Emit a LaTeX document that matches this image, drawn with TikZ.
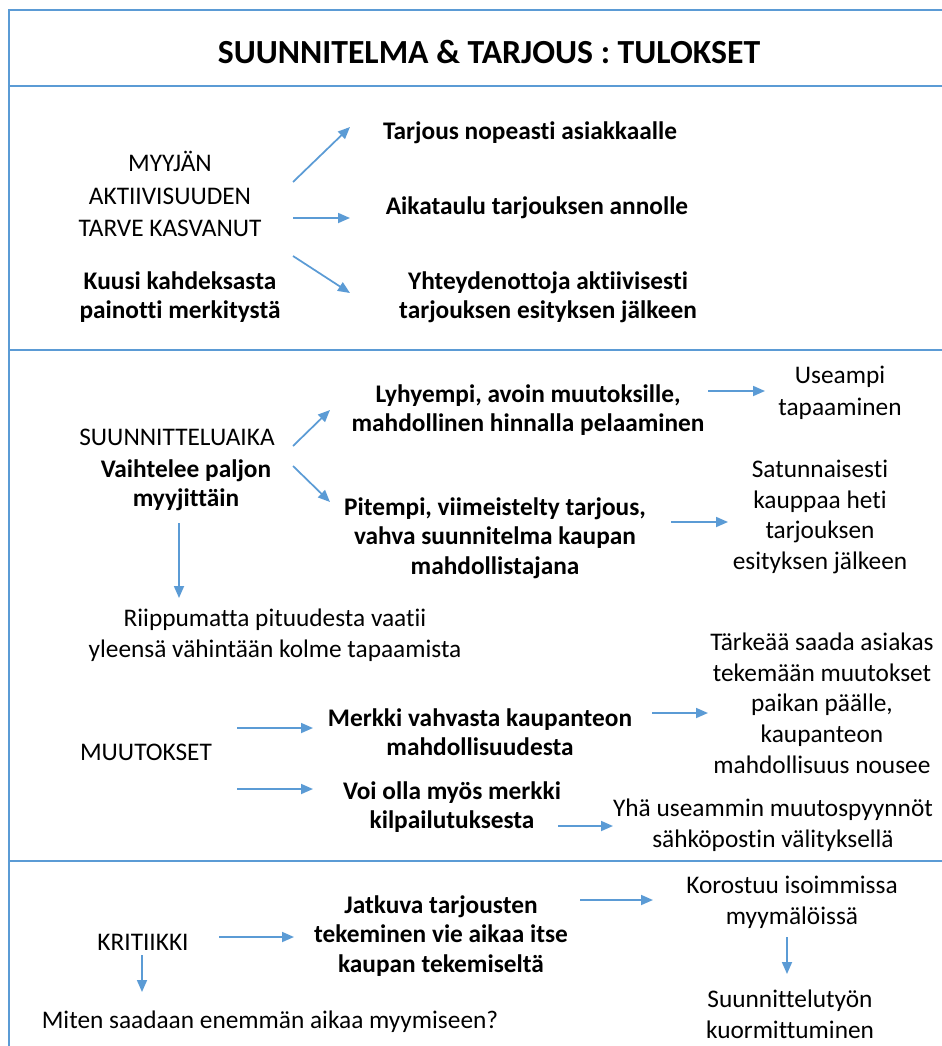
\documentclass[tikz,border=0pt]{standalone}
\usepackage{fontspec}
\setmainfont{Carlito}[Ligatures=NoCommon]
\usetikzlibrary{arrows.meta}
\definecolor{lineblue}{RGB}{91,155,213}
\tikzset{
  frameline/.style={draw=lineblue, line width=1.6pt},
  arr/.style={draw=lineblue, line width=1.3pt, -{Triangle[length=9pt,width=7.5pt]}},
  txt/.style={align=center, inner sep=0pt, yshift=-1.5pt, font=\fontsize{19}{23}\selectfont},
  btxt/.style={align=center, inner sep=0pt, yshift=-1.5pt, font=\fontsize{19}{22}\selectfont\bfseries},
}
\begin{document}
\begin{tikzpicture}[x=0.75pt,y=-0.75pt]
\useasboundingbox (0,0) rectangle (942,1046);
% frame
\draw[frameline] (942,10) -- (9,10) -- (9,1046);
\draw[frameline] (9,86) -- (942,86);
\draw[frameline] (9,350) -- (942,350);
\draw[frameline] (9,861) -- (942,861);
% title
\node[inner sep=0pt, font=\fontsize{25.3}{29}\selectfont\bfseries] (title) at (489,52) {SUUNNITELMA \& TARJOUS : TULOKSET};
% section 1
\node[txt, font=\fontsize{19}{24.4}\selectfont] (myyjan) at (170,192) {MYYJÄN\\AKTIIVISUUDEN\\TARVE KASVANUT};
\node[btxt] (kuusi) at (180,295) {Kuusi kahdeksasta\\painotti merkitystä};
\node[btxt] (tarjous) at (530,131) {Tarjous nopeasti asiakkaalle};
\node[btxt] (aikataulu) at (537,206) {Aikataulu tarjouksen annolle};
\node[btxt] (yhteyden) at (548,295) {Yhteydenottoja aktiivisesti\\tarjouksen esityksen jälkeen};
\coordinate (a1s) at (293,182); \coordinate (a1e) at (350,127);
\coordinate (a2s) at (293,218); \coordinate (a2e) at (350,218);
\coordinate (a3s) at (293,256); \coordinate (a3e) at (350,293);
\draw[arr] (a1s) -- (a1e);
\draw[arr] (a2s) -- (a2e);
\draw[arr] (a3s) -- (a3e);
% section 2
\node[txt] (suunaika) at (177,435) {SUUNNITTELUAIKA};
\node[btxt] (vaihtelee) at (186,483) {Vaihtelee paljon\\myyjittäin};
\node[btxt] (lyhyempi) at (528,408) {Lyhyempi, avoin muutoksille,\\mahdollinen hinnalla pelaaminen};
\node[txt, font=\fontsize{19}{24}\selectfont] (useampi) at (840,391) {Useampi\\tapaaminen};
\node[btxt] (pitempi) at (495,536) {Pitempi, viimeistelty tarjous,\\vahva suunnitelma kaupan\\mahdollistajana};
\node[txt] (satunn) at (820,515) {Satunnaisesti\\kauppaa heti\\tarjouksen\\esityksen jälkeen};
\node[txt] (riippumatta) at (275,633) {Riippumatta pituudesta vaatii\\yleensä vähintään kolme tapaamista};
\coordinate (b1s) at (293,446); \coordinate (b1e) at (330,410);
\coordinate (b2s) at (293,466); \coordinate (b2e) at (330,502);
\coordinate (b3s) at (708,391); \coordinate (b3e) at (765,391);
\coordinate (b4s) at (671,522); \coordinate (b4e) at (728,522);
\coordinate (b5s) at (179,523); \coordinate (b5e) at (179,598);
\draw[arr] (b1s) -- (b1e);
\draw[arr] (b2s) -- (b2e);
\draw[arr] (b3s) -- (b3e);
\draw[arr] (b4s) -- (b4e);
\draw[arr] (b5s) -- (b5e);
\node[txt] (muutokset) at (146,750) {MUUTOKSET};
\node[btxt] (merkki) at (480,730) {Merkki vahvasta kaupanteon\\mahdollisuudesta};
\node[txt] (tarkeaa) at (822,701) {Tärkeää saada asiakas\\tekemään muutokset\\paikan päälle,\\kaupanteon\\mahdollisuus nousee};
\node[btxt] (voiolla) at (452,805) {Voi olla myös merkki\\kilpailutuksesta};
\node[txt] (yha) at (773,823) {Yhä useammin muutospyynnöt\\sähköpostin välityksellä};
\coordinate (c1s) at (237,728); \coordinate (c1e) at (313,728);
\coordinate (c2s) at (237,789); \coordinate (c2e) at (313,789);
\coordinate (c3s) at (652,713); \coordinate (c3e) at (708,713);
\coordinate (c4s) at (558,826); \coordinate (c4e) at (613,826);
\draw[arr] (c1s) -- (c1e);
\draw[arr] (c2s) -- (c2e);
\draw[arr] (c3s) -- (c3e);
\draw[arr] (c4s) -- (c4e);
% section 3
\node[txt] (kritiikki) at (143,940) {KRITIIKKI};
\node[btxt] (jatkuva) at (441,934) {Jatkuva tarjousten\\tekeminen vie aikaa itse\\kaupan tekemiseltä};
\node[txt] (korostuu) at (792,900) {Korostuu isoimmissa\\myymälöissä};
\node[txt] (suunnty) at (790,1012) {Suunnittelutyön\\kuormittuminen};
\node[txt] (miten) at (270,1020) {Miten saadaan enemmän aikaa myymiseen?};
\coordinate (d1s) at (219,937); \coordinate (d1e) at (294,937);
\coordinate (d2s) at (580,900); \coordinate (d2e) at (653,900);
\coordinate (d3s) at (787,937); \coordinate (d3e) at (787,974);
\coordinate (d4s) at (142,955); \coordinate (d4e) at (142,992);
\draw[arr] (d1s) -- (d1e);
\draw[arr] (d2s) -- (d2e);
\draw[arr] (d3s) -- (d3e);
\draw[arr] (d4s) -- (d4e);
\end{tikzpicture}
\end{document}
